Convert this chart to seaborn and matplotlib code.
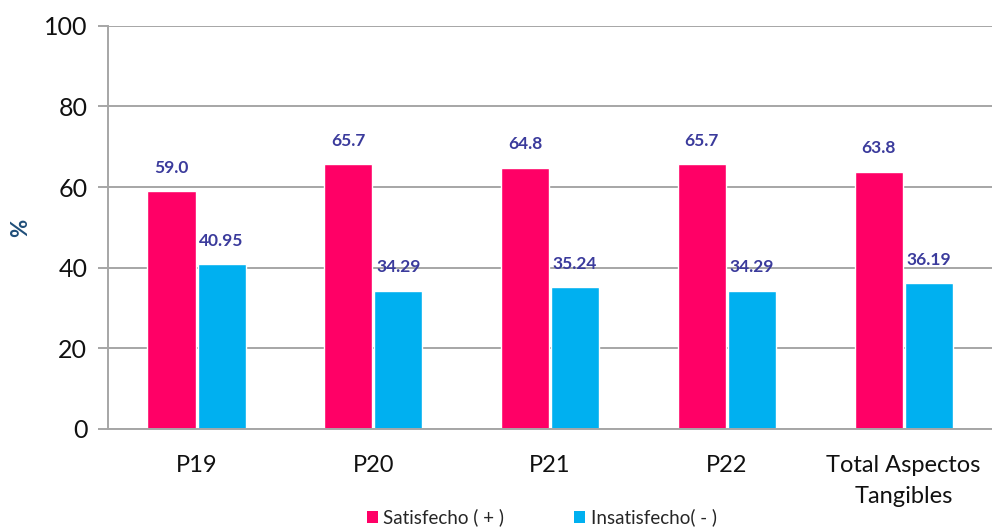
import matplotlib
matplotlib.use("Agg")
import matplotlib.pyplot as plt
import seaborn as sns
import pandas as pd
from matplotlib.patches import Patch

categories = ["P19", "P20", "P21", "P22", "Total Aspectos\nTangibles"]
satisfecho = [59.0, 65.7, 64.8, 65.7, 63.8]
insatisfecho = [40.95, 34.29, 35.24, 34.29, 36.19]
series_names = ["Satisfecho ( + )", "Insatisfecho( - )"]
colors = ["#FF0066", "#00B0F0"]
yticks = [0, 20, 40, 60, 80, 100]

df = pd.DataFrame({
    "categoria": categories * 2,
    "valor": satisfecho + insatisfecho,
    "serie": [series_names[0]] * len(categories) + [series_names[1]] * len(categories),
})

sns.set_style("white")
plt.rcParams["font.family"] = ["Lato", "DejaVu Sans"]

fig = plt.figure(figsize=(9.92, 5.27), dpi=100)
ax = fig.add_axes([0.109, 0.186, 0.891, 0.765])

sns.barplot(data=df, x="categoria", y="valor", hue="serie", palette=colors,
            width=0.566, gap=0.04, ax=ax, legend=False, saturation=1,
            errorbar=None)

ax.set_ylim(0, 100)
ax.set_xlim(-0.5, len(categories) - 0.5)
ax.set_yticks(yticks)
ax.yaxis.grid(True, color="#A6A6A6", linewidth=1.4)
ax.set_axisbelow(True)
for side in ["top", "right"]:
    ax.spines[side].set_visible(False)
for side in ["left", "bottom"]:
    ax.spines[side].set_color("#A6A6A6")
    ax.spines[side].set_linewidth(1.4)
ax.tick_params(axis="y", left=True, length=7, width=1.4, color="#A6A6A6",
               labelsize=18, pad=8, labelcolor="#111111")
ax.tick_params(axis="x", bottom=False, labelsize=17, pad=15, labelcolor="#111111")
ax.set_xticks(range(len(categories)))
ax.set_xticklabels(categories, linespacing=1.6)
ax.set_xlabel("")
ax.set_ylabel("%", fontsize=16, fontweight="bold", color="#1F4E79")
ax.yaxis.set_label_coords(-0.087, 0.5)

fmts = ["%.1f", "%.2f"]
for cont, fmt in zip(ax.containers, fmts):
    ax.bar_label(cont, fmt=fmt, padding=11, color="#3B3B9C", fontsize=12.5,
                 fontweight="bold")

handles = [Patch(facecolor=c, edgecolor="none") for c in colors]
fig.legend(handles, series_names, loc="center", bbox_to_anchor=(0.546, 0.018),
           ncol=2, frameon=False, fontsize=13.5, handlelength=0.6,
           handleheight=0.6, handletextpad=0.3, columnspacing=3.7)

fig.savefig("out.png", dpi=100)
